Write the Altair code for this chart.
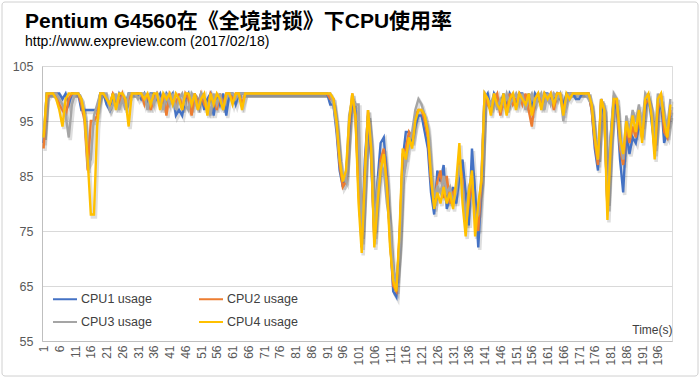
import altair as alt
import pandas as pd

# ---- data ----
seconds = list(range(1, 201))

cpu1 = [
    91, 100, 100, 100, 100, 100, 99, 100, 98, 100,
    100, 100, 97, 97, 97, 97, 97, 97, 100, 100,
    98, 97, 100, 98, 100, 99, 98, 100, 100, 100,
    100, 99, 100, 98, 100, 100, 99, 100, 98, 100,
    99, 100, 96, 97, 96, 99, 100, 97, 100, 98,
    100, 97, 99, 100, 96, 100, 98, 100, 96, 100,
    100, 98, 100, 100, 100, 100, 100, 100, 100, 100,
    100, 100, 100, 100, 100, 100, 100, 100, 100, 100,
    100, 100, 100, 100, 100, 100, 100, 100, 100, 100,
    100, 98, 98, 93, 86, 83, 85, 93, 99, 97,
    83, 72, 88, 96, 88, 74, 84, 91, 92, 85,
    74, 64, 63, 73, 88, 93, 93, 91, 94, 96,
    96, 93, 90, 82, 78, 86, 84, 87, 79, 81,
    83, 80, 85, 88, 82, 76, 90, 82, 72, 83,
    99, 100, 97, 100, 99, 98, 100, 97, 100, 99,
    98, 100, 100, 98, 100, 97, 100, 99, 98, 100,
    100, 99, 99, 100, 99, 98, 100, 100, 100, 99,
    99, 100, 100, 100, 97, 90, 86, 99, 96, 80,
    92, 99, 97, 88, 82, 93, 89, 92, 91, 94,
    93, 97, 100, 95, 90, 96, 99, 91, 93, 96,
]

cpu2 = [
    90, 99, 100, 100, 100, 98, 97, 96, 99, 100,
    100, 100, 98, 95, 86, 95, 95, 96, 100, 100,
    99, 98, 100, 99, 98, 100, 98, 99, 100, 100,
    100, 100, 98, 100, 97, 99, 100, 98, 100, 96,
    100, 99, 98, 100, 97, 100, 99, 96, 100, 98,
    100, 98, 97, 100, 99, 97, 100, 98, 100, 100,
    99, 100, 100, 98, 100, 100, 100, 100, 100, 100,
    100, 100, 100, 100, 100, 100, 100, 100, 100, 100,
    100, 100, 100, 100, 100, 100, 100, 100, 100, 100,
    100, 99, 99, 94, 87, 83, 84, 94, 100, 96,
    82, 73, 86, 97, 89, 73, 82, 88, 90, 84,
    73, 65, 64, 74, 89, 90, 93, 92, 96, 97,
    97, 95, 92, 84, 80, 84, 86, 81, 85, 80,
    82, 83, 88, 84, 76, 80, 84, 78, 75, 84,
    100, 98, 97, 99, 100, 96, 99, 97, 100, 98,
    99, 100, 98, 100, 97, 94, 99, 100, 98, 100,
    99, 100, 97, 100, 100, 97, 99, 100, 100, 100,
    100, 100, 100, 100, 97, 91, 87, 99, 97, 79,
    91, 99, 98, 90, 87, 94, 91, 94, 92, 96,
    92, 98, 99, 97, 89, 97, 100, 93, 92, 97,
]

cpu3 = [
    92, 100, 100, 100, 100, 99, 98, 96, 92, 98,
    100, 100, 99, 96, 87, 88, 96, 98, 100, 100,
    100, 97, 98, 100, 97, 99, 97, 100, 100, 100,
    99, 100, 100, 97, 100, 98, 100, 99, 97, 100,
    98, 100, 97, 99, 100, 98, 97, 100, 99, 97,
    100, 99, 98, 96, 100, 98, 100, 97, 99, 100,
    100, 99, 100, 100, 100, 100, 100, 100, 100, 100,
    100, 100, 100, 100, 100, 100, 100, 100, 100, 100,
    100, 100, 100, 100, 100, 100, 100, 100, 100, 100,
    100, 100, 98, 94, 88, 85, 84, 96, 99, 98,
    98, 74, 84, 96, 91, 75, 83, 87, 86, 80,
    76, 68, 66, 72, 84, 87, 91, 93, 97, 99,
    98, 96, 94, 86, 81, 83, 82, 85, 82, 83,
    80, 82, 87, 83, 77, 83, 85, 77, 78, 85,
    100, 99, 98, 100, 97, 99, 98, 100, 98, 99,
    100, 98, 100, 97, 99, 100, 98, 99, 100, 97,
    100, 98, 100, 99, 100, 95, 99, 100, 100, 100,
    100, 100, 100, 99, 98, 92, 88, 98, 98, 79,
    92, 100, 99, 91, 88, 96, 93, 97, 95, 98,
    94, 100, 99, 97, 91, 100, 98, 96, 94, 99,
]

cpu4 = [
    92, 100, 100, 100, 99, 97, 94, 99, 100, 100,
    100, 100, 99, 96, 88, 78, 78, 94, 100, 100,
    99, 98, 100, 97, 100, 100, 99, 94, 100, 100,
    100, 100, 99, 100, 98, 100, 100, 97, 100, 99,
    100, 98, 100, 99, 97, 100, 100, 98, 100, 97,
    99, 100, 96, 100, 98, 100, 99, 97, 100, 100,
    98, 100, 100, 97, 100, 100, 100, 100, 100, 100,
    100, 100, 100, 100, 100, 100, 100, 100, 100, 100,
    100, 100, 100, 100, 100, 100, 100, 100, 100, 100,
    100, 100, 99, 95, 88, 84, 86, 95, 100, 96,
    80, 71, 85, 97, 90, 72, 80, 86, 89, 83,
    72, 66, 64, 75, 90, 88, 92, 90, 95, 97,
    97, 96, 93, 85, 79, 82, 80, 83, 80, 82,
    79, 84, 91, 80, 74, 82, 86, 74, 80, 84,
    100, 99, 96, 100, 98, 97, 100, 96, 99, 100,
    97, 100, 99, 98, 100, 96, 99, 100, 97, 100,
    99, 100, 98, 100, 100, 96, 100, 99, 100, 100,
    100, 100, 100, 100, 98, 92, 88, 99, 97, 77,
    90, 99, 99, 92, 89, 95, 92, 96, 93, 97,
    91, 99, 100, 96, 88, 99, 100, 95, 92, 98,
]

series_names = ["CPU1 usage", "CPU2 usage", "CPU3 usage", "CPU4 usage"]
series_colors = ["#4472C4", "#ED7D31", "#A5A5A5", "#FFC000"]
y_ticks = [55, 65, 75, 85, 95, 105]
x_ticks = [1, 6, 11, 16, 21, 26, 31, 36, 41, 46, 51, 56, 61, 66, 71, 76, 81, 86,
           91, 96, 101, 106, 111, 116, 121, 126, 131, 136, 141, 146, 151, 156,
           161, 166, 171, 176, 181, 186, 191, 196]

title_text = "Pentium G4560在《全境封锁》下CPU使用率"
subtitle_text = "http://www.expreview.com (2017/02/18)"
x_title = "Time(s)"

rows = []
for order, (name, vals) in enumerate(zip(series_names, [cpu1, cpu2, cpu3, cpu4])):
    for t, v in zip(seconds, vals):
        rows.append({"t": t, "usage": v, "series": name, "ord": order})
df = pd.DataFrame(rows)

FONT = "Liberation Sans, Arial, Noto Sans CJK SC, sans-serif"
W, H = 630, 275

x_enc = alt.X(
    "t:Q",
    scale=alt.Scale(domain=[0.5, 200.5], nice=False, zero=False),
    axis=alt.Axis(
        values=x_ticks, labelAngle=270, labelFontSize=12, labelColor="#595959",
        labelFont=FONT, labelPadding=4, ticks=False, grid=False,
        domainColor="#BFBFBF", labelOverlap=False, labelFlush=False,
        title=x_title, titleFont=FONT, titleFontSize=12, titleFontWeight="normal",
        titleColor="#404040", titleX=W, titleY=-5, titleAlign="right",
        titleBaseline="bottom", titleAnchor="end",
    ),
)
y_enc = alt.Y(
    "usage:Q",
    scale=alt.Scale(domain=[55, 105], nice=False, zero=False),
    axis=alt.Axis(
        values=y_ticks, title=None, grid=True, gridColor="#D9D9D9",
        ticks=False, domainColor="#BFBFBF", labelFontSize=12.5,
        labelColor="#595959", labelFont=FONT, labelPadding=9,
    ),
)

frame = alt.Chart(pd.DataFrame({"a": [0]})).mark_rect(
    fill="transparent", stroke="#D0D0D0", strokeWidth=1, cornerRadius=3
).encode(
    x=alt.value(-40), x2=alt.value(W + 26), y=alt.value(-64), y2=alt.value(H + 35)
)

base = alt.Chart(df)

shadow = base.mark_line(
    color="#000000", opacity=0.13, strokeWidth=3.5, xOffset=1.5, yOffset=2.5,
    interpolate="linear",
).encode(x=x_enc, y=y_enc, detail="series:N", order="t:Q")

lines = base.mark_line(strokeWidth=2.4, interpolate="linear").encode(
    x=x_enc,
    y=y_enc,
    color=alt.Color(
        "series:N",
        scale=alt.Scale(domain=series_names, range=series_colors),
        legend=alt.Legend(
            title=None, orient="none", legendX=10, legendY=220, columns=2,
            direction="horizontal",
            symbolType="stroke", symbolSize=576, symbolStrokeWidth=2,
            labelFontSize=12.5, labelFont=FONT, labelColor="#404040",
            rowPadding=3, columnPadding=43, labelOffset=3,
        ),
    ),
    order="t:Q",
)

chart = alt.layer(frame, shadow, lines).properties(
    width=W,
    height=H,
    autosize=alt.AutoSizeParams(type="none"),
    padding={"left": 42, "top": 66, "right": 28, "bottom": 38},
    title=alt.TitleParams(
        text=title_text, subtitle=subtitle_text, anchor="start", frame="group",
        dx=-17, offset=-47, font=FONT, fontSize=21, fontWeight="bold",
        color="#000000", subtitleFont=FONT, subtitleFontSize=14,
        subtitleColor="#000000", subtitlePadding=3,
    ),
).configure_view(stroke=None).configure(background="white")

chart.save("out.html", embed_options={"renderer": "svg", "actions": False})
